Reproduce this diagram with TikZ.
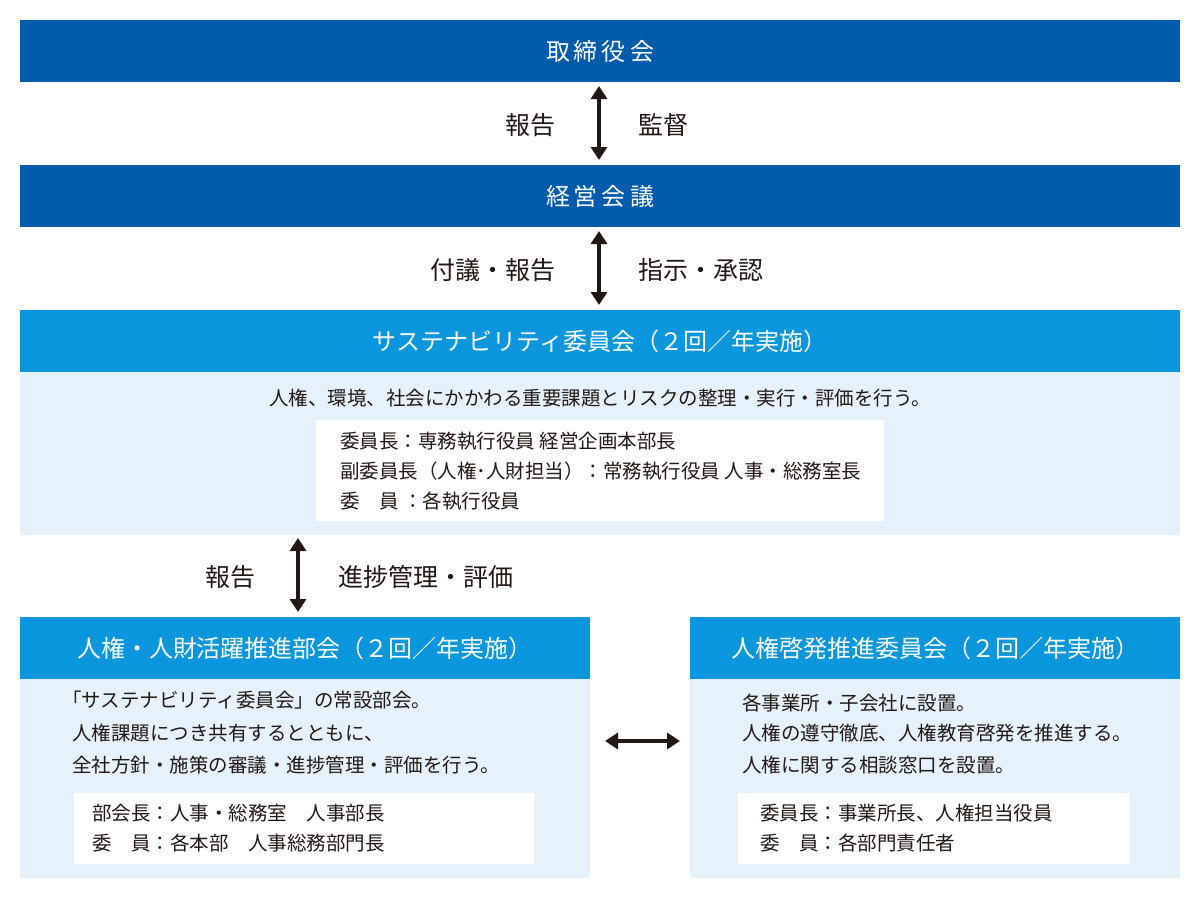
\documentclass[tikz,border=0pt]{standalone}
\usepackage{fontspec}
\setmainfont{Noto Sans CJK JP}
\usetikzlibrary{arrows.meta}
\definecolor{dblue}{HTML}{005BAC}
\definecolor{lblue}{HTML}{0A96DC}
\definecolor{pale}{HTML}{E5F1FB}
\definecolor{ink}{HTML}{231815}
\tikzset{
 bar/.style={fill=dblue,draw=none},
 hdr/.style={fill=lblue,draw=none},
 pl/.style={fill=pale,draw=none},
 wb/.style={fill=white,draw=none},
 htxt/.style={text=white,font=\fontsize{24}{28}\selectfont,inner sep=0},
 btxt/.style={text=ink,font=\fontsize{19.5}{23}\selectfont,inner sep=0},
 lbl/.style={text=ink,font=\fontsize{25}{30}\selectfont,inner sep=0},
 arr/.style={draw=ink,line width=3.5pt,{Triangle[length=13pt,width=16pt]}-{Triangle[length=13pt,width=16pt]}}
}
\begin{document}
\begin{tikzpicture}[x=1pt,y=-1pt]
\useasboundingbox (0,0) rectangle (1200,900);
\fill[white] (0,0) rectangle (1200,900);
\fill[bar] (20,20) rectangle (1180,82);
\node[htxt] (t1) at (600,51) {取\kern4pt 締\kern4pt 役\kern4pt 会};
\fill[bar] (20,165) rectangle (1180,227);
\node[htxt] (t2) at (600,196) {経\kern4pt 営\kern4pt 会\kern4pt 議};
\coordinate (a1) at (599,86); \coordinate (a2) at (599,160);
\draw[arr] (a1) -- (a2);
\node[lbl,anchor=east] (l1) at (556,125) {報告};
\node[lbl,anchor=west] (l2) at (638,125) {監督};
\coordinate (b1) at (599,231); \coordinate (b2) at (599,305);
\draw[arr] (b1) -- (b2);
\node[lbl,anchor=east] (l3) at (556,270) {付議・報告};
\node[lbl,anchor=west] (l4) at (638,270) {指示・承認};
\fill[hdr] (20,310) rectangle (1180,372);
\node[htxt] (t3) at (600,341) {サステナビリティ委員会（２回／年実施）};
\fill[pl] (20,372) rectangle (1180,535);
\node[btxt] (s0) at (600,398) {人権、環境、社会にかかわる重要課題とリスクの整理・実行・評価を行う。};
\fill[wb] (316,420) rectangle (884,521);
\node[btxt,anchor=west] (s1) at (340,441) {委員長：専務執行役員 経営企画本部長};
\node[btxt,anchor=west] (s2) at (340,471) {副委員長（人権･人財担当）：常務執行役員 人事・総務室長};
\node[btxt,anchor=west] (s3) at (340,501) {委\quad 員 ：各執行役員};
\coordinate (c1) at (298,538); \coordinate (c2) at (298,612);
\draw[arr] (c1) -- (c2);
\node[lbl,anchor=east] (l5) at (256,577) {報告};
\node[lbl,anchor=west] (l6) at (338,577) {進捗管理・評価};
\fill[hdr] (20,617) rectangle (590,679);
\node[htxt] (t4) at (305,648) {人権・人財活躍推進部会（２回／年実施）};
\fill[pl] (20,679) rectangle (590,878);
\node[btxt,anchor=west] (p1) at (62,700) {「サステナビリティ委員会」の常設部会。};
\node[btxt,anchor=west] (p2) at (72,733) {人権課題につき共有するとともに、};
\node[btxt,anchor=west] (p3) at (72,765) {全社方針・施策の審議・進捗管理・評価を行う。};
\fill[wb] (74,793) rectangle (534,864);
\node[btxt,anchor=west] (p4) at (92,813) {部会長：人事・総務室\quad 人事部長};
\node[btxt,anchor=west] (p5) at (92,843) {委\quad 員：各本部\quad 人事総務部門長};
\fill[hdr] (690,617) rectangle (1180,679);
\node[htxt] (t5) at (935,648) {人権啓発推進委員会（２回／年実施）};
\fill[pl] (690,679) rectangle (1180,878);
\node[btxt,anchor=west] (r1) at (742,703) {各事業所・子会社に設置。};
\node[btxt,anchor=west] (r2) at (742,733) {人権の遵守徹底、人権教育啓発を推進する。};
\node[btxt,anchor=west] (r3) at (742,765) {人権に関する相談窓口を設置。};
\fill[wb] (738,793) rectangle (1130,864);
\node[btxt,anchor=west] (r4) at (760,813) {委員長：事業所長、人権担当役員};
\node[btxt,anchor=west] (r5) at (760,843) {委\quad 員：各部門責任者};
\coordinate (d1) at (605,741); \coordinate (d2) at (680,741);
\draw[arr] (d1) -- (d2);
\end{tikzpicture}
\end{document}
